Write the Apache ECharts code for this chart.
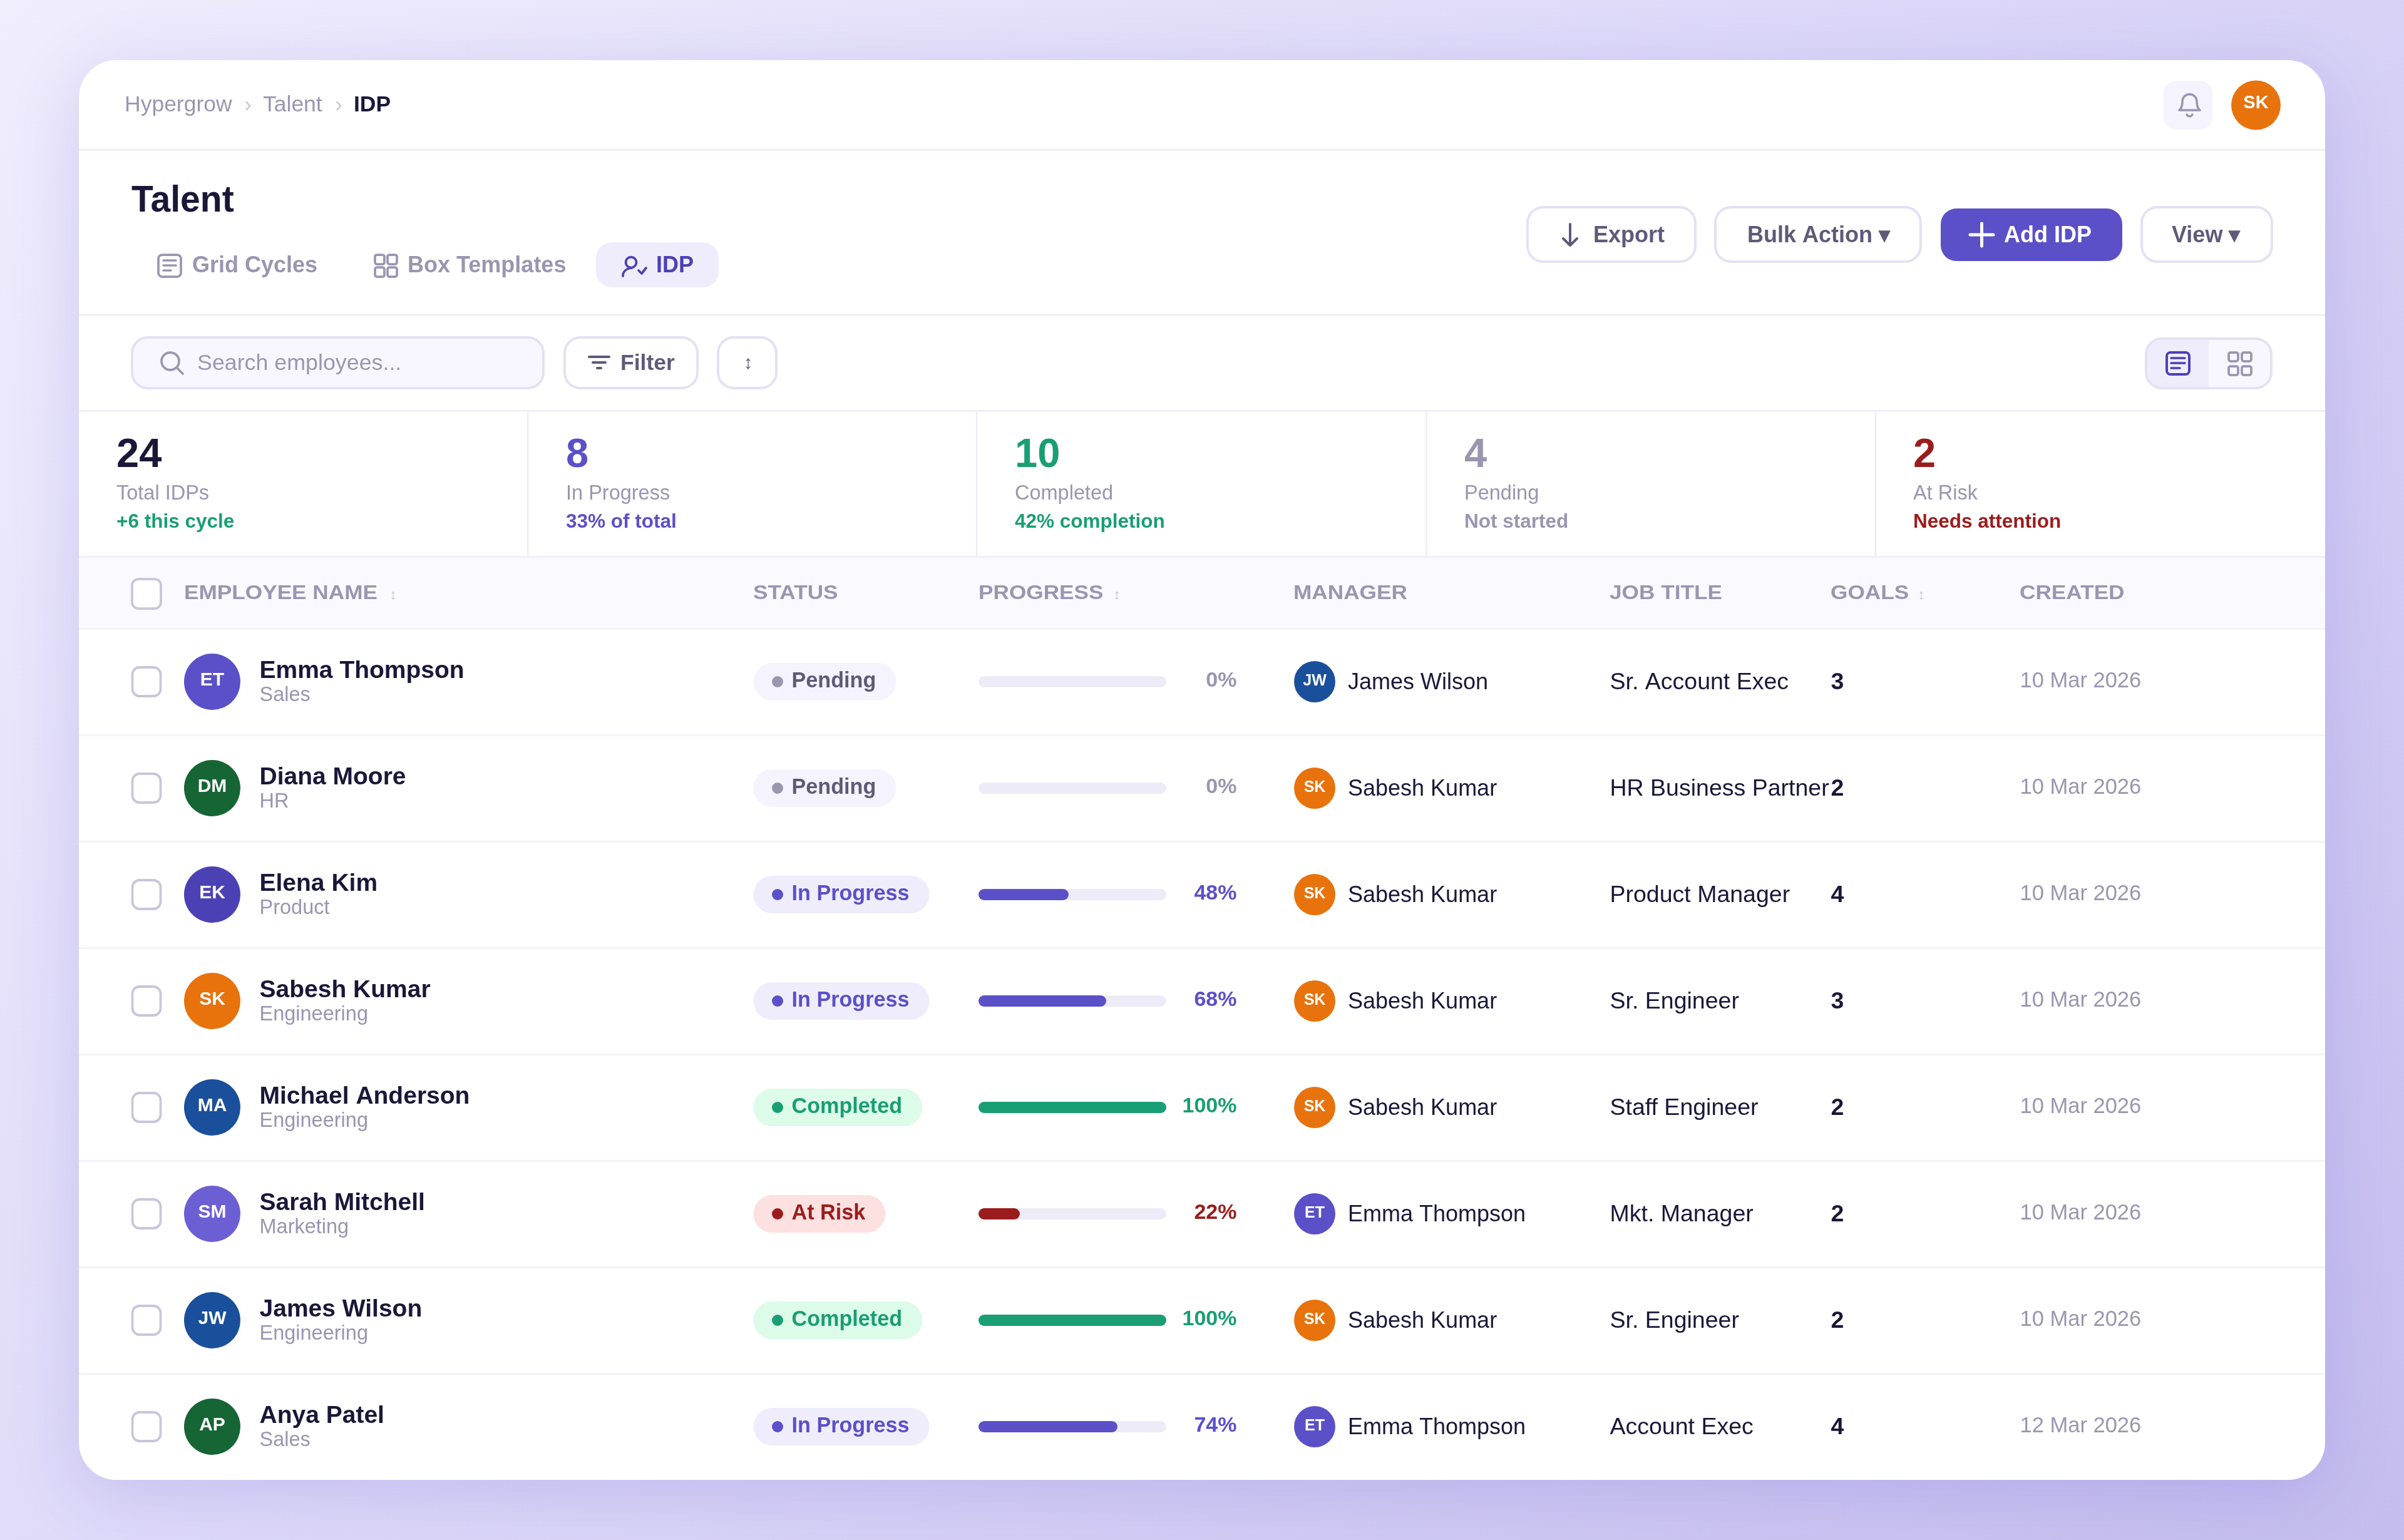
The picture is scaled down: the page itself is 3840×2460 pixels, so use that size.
<!DOCTYPE html>
<html>
<head>
<meta charset="utf-8">
<title>Talent IDP</title>
<style>
  html, body { margin: 0; padding: 0; }
  #main { width: 3840px; height: 2460px; }
</style>
<script src="https://cdn.jsdelivr.net/npm/echarts@6/dist/echarts.min.js"></script>
</head>
<body>
<div id="main"></div>
<script>
// table data
var employees = ['Emma Thompson', 'Diana Moore', 'Elena Kim', 'Sabesh Kumar', 'Michael Anderson', 'Sarah Mitchell', 'James Wilson', 'Anya Patel'];
var departments = ['Sales', 'HR', 'Product', 'Engineering', 'Engineering', 'Marketing', 'Engineering', 'Sales'];
var initials = ['ET', 'DM', 'EK', 'SK', 'MA', 'SM', 'JW', 'AP'];
var statuses = ['Pending', 'Pending', 'In Progress', 'In Progress', 'Completed', 'At Risk', 'Completed', 'In Progress'];
var progress = [0, 0, 48, 68, 100, 22, 100, 74];
var managers = ['James Wilson', 'Sabesh Kumar', 'Sabesh Kumar', 'Sabesh Kumar', 'Sabesh Kumar', 'Emma Thompson', 'Sabesh Kumar', 'Emma Thompson'];
var managerInitials = ['JW', 'SK', 'SK', 'SK', 'SK', 'ET', 'SK', 'ET'];
var jobTitles = ['Sr. Account Exec', 'HR Business Partner', 'Product Manager', 'Sr. Engineer', 'Staff Engineer', 'Mkt. Manager', 'Sr. Engineer', 'Account Exec'];
var goals = [3, 2, 4, 3, 2, 2, 2, 4];
var created = ['10 Mar 2026', '10 Mar 2026', '10 Mar 2026', '10 Mar 2026', '10 Mar 2026', '10 Mar 2026', '10 Mar 2026', '12 Mar 2026'];

// summary strip
var kpiValues = ['24', '8', '10', '4', '2'];
var kpiLabels = ['Total IDPs', 'In Progress', 'Completed', 'Pending', 'At Risk'];
var kpiNotes = ['+6 this cycle', '33% of total', '42% completion', 'Not started', 'Needs attention'];

// colours
var INK = '#1a1738', MUTED = '#9a96b0', BODY = '#5f5a78', LINE = '#eeecf9', EDGE = '#e4e1f4';
var INDIGO = '#5b50c8', DEEP = '#4b41b5', GREEN = '#1a9e74', RED = '#9b1c1c', TRACK = '#eeebf8';
var kpiColors = [INK, INDIGO, GREEN, MUTED, RED];
var kpiNoteColors = [GREEN, INDIGO, GREEN, MUTED, RED];
var statusStyle = {
    'Pending': { text: BODY, dot: MUTED, bg: '#f5f3fe', pct: MUTED, bar: MUTED },
    'In Progress': { text: INDIGO, dot: INDIGO, bg: '#efedfb', pct: INDIGO, bar: INDIGO },
    'Completed': { text: GREEN, dot: GREEN, bg: '#dcfbe9', pct: GREEN, bar: GREEN },
    'At Risk': { text: RED, dot: RED, bg: '#fde0e0', pct: RED, bar: RED }
};
var avatarColors = { ET: '#5b50c8', DM: '#166534', EK: '#4b41b5', SK: '#e8720c', MA: '#1a4f9c', SM: '#6c5fd4', JW: '#1a4f9c', AP: '#166534' };

var FONT = '"Liberation Sans", Arial, sans-serif';
var CARD = { left: 126, top: 96, right: 3714, bottom: 2364 };
var ROWS_TOP = 1004;

// ---- chrome helpers ----
var gfx = [];
var iconCount = 0;

function box(x, y, w, h, r, fill, stroke, lw) {
    gfx.push({
        type: 'rect', silent: true,
        shape: { x: x, y: y, width: w, height: h, r: r },
        style: { fill: fill || 'none', stroke: stroke || 'none', lineWidth: lw || 0 }
    });
}

function label(x, y, str, size, color, bold, align, scaleX) {
    gfx.push({
        type: 'text', silent: true, x: x, y: y + 2.5, scaleX: scaleX || 1,
        style: {
            text: str, fill: color,
            font: (bold ? 'bold ' : '') + size + 'px ' + FONT,
            textAlign: align || 'left', textVerticalAlign: 'middle'
        }
    });
}

// the graphic component has no plain path type, icons get registered as shapes
function stroke(d, color, lw) {
    var name = 'icon' + (iconCount++);
    echarts.graphic.registerShape(name, echarts.graphic.extendPath(d, {}));
    gfx.push({
        type: name, silent: true,
        style: { fill: 'none', stroke: color, lineWidth: lw, lineCap: 'round', lineJoin: 'round' }
    });
}

function button(x, w, text, textX) {
    box(x, 331, w, 87, 25, '#fff', EDGE, 4);
    label(textX, 375, text, 36, BODY, true);
}

// page card
gfx.push({
    type: 'rect', silent: true,
    shape: { x: CARD.left, y: CARD.top, width: CARD.right - CARD.left, height: CARD.bottom - CARD.top, r: 60 },
    style: { fill: '#fff', shadowBlur: 110, shadowOffsetY: 22, shadowColor: 'rgba(91,80,200,0.2)' }
});

// header band of the table and dividers
box(CARD.left, 889, CARD.right - CARD.left, 114, 0, '#faf9ff');
[238, 502, 655, 888].forEach(function (y) {
    box(CARD.left, y, CARD.right - CARD.left, 2.5, 0, LINE);
});
[842, 1559, 2277, 2995].forEach(function (x) {
    box(x, 655, 2.5, 234, 0, LINE);
});

// breadcrumb
label(199, 166, 'Hypergrow', 35.5, MUTED);
label(396, 166, '›', 35, '#c9c5dc', false, 'center');
label(420, 166, 'Talent', 35.5, MUTED);
label(541, 166, '›', 35, '#c9c5dc', false, 'center');
label(565, 166, 'IDP', 35.5, INK, true);

// bell + user
box(3456, 129, 78, 78, 20, '#f5f3fe');
stroke('M3486 162a11.5 11.5 0 0 1 23 0c0 11 5 14 5 14H3481s5-3 5-14M3493 183a5 5 0 0 0 9 0', MUTED, 3.5);
gfx.push({ type: 'circle', silent: true, shape: { cx: 3603.5, cy: 168, r: 39.5 }, style: { fill: '#e8720c' } });
label(3603.5, 162.5, 'SK', 29, '#fff', true, 'center');

// title + tabs
label(210, 319, 'Talent', 60, INK, true, 'left', 0.95);
box(253, 407, 36, 35, 6, 'none', MUTED, 3.75);
stroke('M261 416H281M261 424H281M261 432H273', MUTED, 3.5);
label(307, 423, 'Grid Cycles', 36, MUTED, true);
box(599, 407, 15, 15, 3, 'none', MUTED, 3.75);
box(619, 407, 15, 15, 3, 'none', MUTED, 3.75);
box(599, 427, 15, 15, 3, 'none', MUTED, 3.75);
box(619, 427, 15, 15, 3, 'none', MUTED, 3.75);
label(651, 423, 'Box Templates', 36, MUTED, true);
box(952, 387, 196, 72, 25, '#efedfb');
gfx.push({ type: 'circle', silent: true, shape: { cx: 1008, cy: 419, r: 8.5 }, style: { fill: 'none', stroke: DEEP, lineWidth: 3.75 } });
stroke('M995 441c0-7 5-12 14-13M1020 432L1025 437L1032 428', DEEP, 3.75);
label(1048, 423, 'IDP', 36, DEEP, true);

// action buttons
button(2440, 268, 'Export', 2545);
stroke('M2508 358V392M2497 381L2508 392L2519 381', BODY, 4);
button(2740, 328, 'Bulk Action ▾', 2791);
box(3100, 333, 290, 84, 25, INDIGO);
stroke('M3147 375H3184M3165.5 357V393', '#fff', 5);
label(3201, 375, 'Add IDP', 36, '#fff', true);
button(3421, 208, 'View ▾', 3469);

// search row
box(211, 539, 657, 81, 25, '#f8f7ff', EDGE, 4);
gfx.push({ type: 'circle', silent: true, shape: { cx: 272, cy: 577, r: 14 }, style: { fill: 'none', stroke: MUTED, lineWidth: 3.75 } });
stroke('M282 587L292 597', MUTED, 3.75);
label(315, 579, 'Search employees...', 35.8, MUTED);
box(902, 539, 212, 81, 25, '#fff', EDGE, 4);
stroke('M941 570H973M947 579H967M954 588H960', BODY, 4);
label(991, 579, 'Filter', 35.5, BODY, true);
box(1147, 539, 93, 81, 25, '#fff', EDGE, 4);
label(1195, 578.5, '↕', 30, BODY, false, 'center');

// list / grid toggle
box(3429, 541, 99, 79, [25, 0, 0, 25], '#efedfb');
box(3528, 541, 99, 79, [0, 25, 25, 0], '#f8f7ff');
box(3428, 541, 200, 79, 25, 'none', EDGE, 4);
box(3461, 563, 36, 35, 6, 'none', DEEP, 4);
stroke('M3468 572H3490M3468 580H3490M3468 588H3482', DEEP, 3.5);
box(3560, 563, 15, 14, 3, 'none', MUTED, 3.75);
box(3581, 563, 15, 14, 3, 'none', MUTED, 3.75);
box(3560, 585, 15, 14, 3, 'none', MUTED, 3.75);
box(3581, 585, 15, 14, 3, 'none', MUTED, 3.75);

// summary strip
var kpiX = [186, 904, 1621, 2339, 3056];
kpiValues.forEach(function (v, i) {
    label(kpiX[i], 726, v, 65, kpiColors[i], true);
    label(kpiX[i], 787, kpiLabels[i], 32.5, MUTED);
    label(kpiX[i], 832, kpiNotes[i], 31.5, kpiNoteColors[i], true);
});

// column headers
box(211, 925, 46, 47, 10, '#fff', '#c9c5dc', 3.75);
[['EMPLOYEE NAME', 294], ['STATUS', 1203], ['PROGRESS', 1563], ['MANAGER', 2066], ['JOB TITLE', 2571], ['GOALS', 2924], ['CREATED', 3226]].forEach(function (h) {
    label(h[1], 946, h[0], 32, MUTED, true, 'left', 1.1);
});
[628, 1784, 3069].forEach(function (x) {
    label(x, 948, '↕', 22, '#c9c5dc', false, 'center');
});

// ---- table cells, positioned through the row axis ----
function rowPoints(x) {
    return employees.map(function (name, i) {
        return [x, i];
    });
}

function textColumn(x, texts, style, position, offsetY) {
    return {
        type: 'scatter', xAxisIndex: 1, yAxisIndex: 1, z: 3, silent: true,
        symbolSize: 1, itemStyle: { color: 'transparent', opacity: 1 },
        data: rowPoints(x),
        label: Object.assign({
            show: true, position: position || 'right', distance: 0, offset: [0, offsetY || 0],
            fontFamily: FONT,
            formatter: function (p) { return texts[p.dataIndex]; }
        }, style)
    };
}

function avatarColumn(x, size, list, fontSize, offsetY) {
    return {
        type: 'scatter', xAxisIndex: 1, yAxisIndex: 1, z: 3, silent: true,
        symbol: 'circle', symbolSize: size,
        itemStyle: { opacity: 1, color: function (p) { return avatarColors[list[p.dataIndex]]; } },
        data: rowPoints(x),
        label: {
            show: true, position: 'inside', offset: [0, offsetY],
            fontFamily: FONT, fontWeight: 'bold', fontSize: fontSize, color: '#fff',
            formatter: function (p) { return list[p.dataIndex]; }
        }
    };
}

var series = [
    // progress bars on their own 0-100 axis
    {
        name: 'Progress', type: 'bar', xAxisIndex: 0, yAxisIndex: 0, silent: true,
        barWidth: 18, z: 3,
        showBackground: true,
        backgroundStyle: { color: TRACK, borderRadius: 9 },
        itemStyle: {
            borderRadius: 9,
            color: function (p) { return statusStyle[statuses[p.dataIndex]].bar; }
        },
        data: progress
    },
    // row checkboxes
    {
        type: 'scatter', xAxisIndex: 1, yAxisIndex: 1, z: 3, silent: true,
        symbol: 'roundRect', symbolSize: [45, 46],
        itemStyle: { opacity: 1, color: '#fff', borderColor: '#c9c5dc', borderWidth: 3.75 },
        data: rowPoints(234)
    },
    avatarColumn(339, 90, initials, 30, -2),
    // name + department
    textColumn(414, employees.map(function (n, i) {
        return '{n|' + n + '}\n{d|' + departments[i] + '}';
    }), {
        rich: {
            n: { fontFamily: FONT, fontSize: 39, fontWeight: 'bold', color: INK, lineHeight: 38 },
            d: { fontFamily: FONT, fontSize: 32.5, color: MUTED, lineHeight: 41 }
        }
    }, 'right', 3.5),
    // status pills
    {
        type: 'scatter', xAxisIndex: 1, yAxisIndex: 1, z: 3, silent: true,
        symbolSize: 1, itemStyle: { color: 'transparent', opacity: 1 },
        data: statuses.map(function (s, i) {
            return {
                value: [1203, i],
                label: { color: statusStyle[s].text, backgroundColor: statusStyle[s].bg }
            };
        }),
        label: {
            show: true, position: 'right', distance: 0,
            fontFamily: FONT, fontWeight: 'bold', fontSize: 34.2, lineHeight: 34,
            padding: [13, 32, 13, 61], borderRadius: 30,
            formatter: function (p) { return statuses[p.dataIndex]; }
        }
    },
    {
        type: 'scatter', xAxisIndex: 1, yAxisIndex: 1, z: 4, silent: true,
        symbol: 'circle', symbolSize: 18,
        itemStyle: { opacity: 1, color: function (p) { return statusStyle[statuses[p.dataIndex]].dot; } },
        data: rowPoints(1242)
    },
    // percent next to the bar
    {
        type: 'scatter', xAxisIndex: 1, yAxisIndex: 1, z: 3, silent: true,
        symbolSize: 1, itemStyle: { color: 'transparent', opacity: 1 },
        data: progress.map(function (v, i) {
            return { value: [1976, i], label: { color: statusStyle[statuses[i]].pct } };
        }),
        label: {
            show: true, position: 'left', distance: 0, offset: [0, -1],
            fontFamily: FONT, fontWeight: 'bold', fontSize: 34,
            formatter: function (p) { return progress[p.dataIndex] + '%'; }
        }
    },
    avatarColumn(2100, 66, managerInitials, 25, -1),
    textColumn(2152.5, managers, { fontSize: 36, color: INK }, 'right', 2),
    textColumn(2571, jobTitles, { fontSize: 37.5, color: INK }, 'right', 2),
    textColumn(2924, goals, { fontSize: 37.5, fontWeight: 'bold', color: INK }, 'right', 2),
    textColumn(3226, created, { fontSize: 34.5, color: MUTED }, 'right', -1)
];

var chart = echarts.init(document.getElementById('main'));

var option = {
    animation: false,
    // css style 135deg wash over the whole page
    backgroundColor: new echarts.graphic.LinearGradient(345, -345, 3495, 2805, [
        { offset: 0, color: '#f0edfd' },
        { offset: 0.5, color: '#dcd7f8' },
        { offset: 1, color: '#c5bdef' }
    ], true),
    tooltip: { show: false },
    graphic: { elements: gfx },
    grid: [
        { left: 1563, width: 300, top: ROWS_TOP, height: CARD.bottom - ROWS_TOP },
        { left: CARD.left, width: CARD.right - CARD.left, top: ROWS_TOP, height: CARD.bottom - ROWS_TOP }
    ],
    xAxis: [
        { type: 'value', gridIndex: 0, min: 0, max: 100, show: false },
        // second axis runs in page pixels so column offsets read directly
        { type: 'value', gridIndex: 1, min: CARD.left, max: CARD.right, show: false }
    ],
    yAxis: [
        { type: 'category', gridIndex: 0, data: employees, inverse: true, show: false },
        {
            type: 'category', gridIndex: 1, data: employees, inverse: true, z: 1,
            axisLine: { show: false }, axisTick: { show: false }, axisLabel: { show: false },
            splitLine: { show: true, showMaxLine: false, lineStyle: { color: '#f1f0f8', width: 2.5 } }
        }
    ],
    series: series
};

chart.setOption(option);
</script>
</body>
</html>
